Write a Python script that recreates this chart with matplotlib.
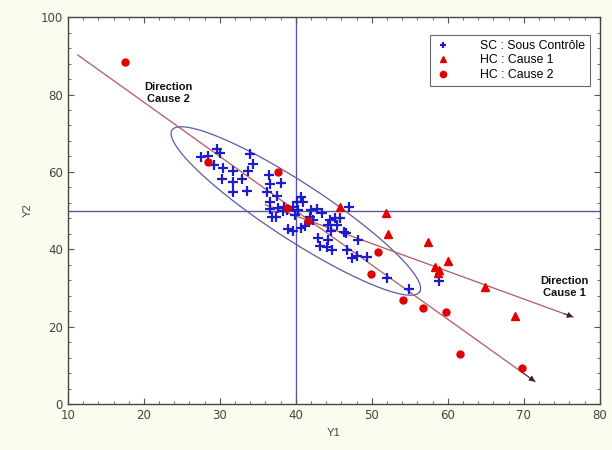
import numpy as np
import matplotlib
matplotlib.use('Agg')
import matplotlib.pyplot as plt
from matplotlib.ticker import MultipleLocator

# SC : Sous Contrôle
sc_y1 = [27.5, 28.4, 29.6, 30.0, 29.2, 30.4, 31.7, 33.9, 34.3, 33.7, 30.3, 31.7, 32.9,
         31.7, 33.6, 36.4, 36.6, 38.0, 36.2, 37.5, 36.6, 36.6, 36.8, 37.4, 38.4, 38.8,
         39.6, 40.1, 40.7, 40.9, 39.9, 40.3, 42.0, 42.8, 43.4, 41.8, 42.2, 44.5, 45.1,
         44.2, 45.4, 44.6, 46.4, 38.9, 39.6, 40.7, 41.2, 41.7, 42.9, 43.2, 44.2, 44.1,
         47.0, 45.8, 46.6, 48.2, 44.7, 46.7, 47.4, 48.0, 49.3, 52.0, 54.9, 58.8, 37.6, 38.3]
sc_y2 = [63.8, 64.1, 65.9, 64.9, 61.8, 61.0, 60.2, 64.6, 62.0, 60.2, 58.1, 57.4, 58.1,
         54.8, 55.0, 59.2, 56.8, 57.1, 54.8, 53.7, 52.2, 50.4, 48.3, 48.3, 50.9, 50.1,
         50.9, 52.2, 53.5, 52.2, 48.8, 50.1, 50.1, 50.4, 49.4, 48.3, 47.5, 47.5, 48.1,
         46.3, 46.3, 44.7, 44.4, 45.2, 44.7, 45.5, 46.0, 47.0, 42.9, 40.9, 42.4, 40.6,
         50.9, 48.1, 44.2, 42.4, 39.8, 39.8, 37.7, 38.2, 38.0, 32.6, 29.7, 31.8, 50.6, 49.9]

# HC : Cause 1
c1_y1 = [45.8, 51.8, 52.1, 57.4, 60.0, 58.3, 58.9, 58.7, 64.9, 68.9]
c1_y2 = [50.9, 49.4, 43.9, 41.8, 37.0, 35.4, 34.6, 33.9, 30.2, 22.7]

# HC : Cause 2
c2_y1 = [17.5, 28.4, 37.6, 38.8, 41.6, 50.8, 49.9, 54.1, 56.8, 59.7, 61.6, 69.7]
c2_y2 = [88.4, 62.5, 60.0, 50.6, 47.3, 39.3, 33.6, 26.9, 24.8, 23.8, 12.9, 9.3]

# reference lines and directions
y1_ref = 40
y2_ref = 50
dir1 = [(36.0, 51.5), (76.5, 22.5)]
dir2 = [(11.3, 90.2), (71.5, 5.8)]

# control ellipse: centre, half major axis, half minor axis (data units)
ell_c = (40.0, 49.9)
ell_a = (16.3, -20.9)
ell_b = (-2.0, -6.1)

fig = plt.figure(figsize=(6.12, 4.5), dpi=100, facecolor='#fcfbef')
ax = fig.add_axes([0.111, 0.102, 0.869, 0.860])
ax.set_facecolor('white')

ax.axvline(y1_ref, color='#5a5aa8', lw=1.0, zorder=1)
ax.axhline(y2_ref, color='#5a5aa8', lw=1.0, zorder=1)

t = np.linspace(0, 2 * np.pi, 300)
ex = ell_c[0] + np.cos(t) * ell_a[0] + np.sin(t) * ell_b[0]
ey = ell_c[1] + np.cos(t) * ell_a[1] + np.sin(t) * ell_b[1]
ax.plot(ex, ey, color='#5a5aa8', lw=0.9, zorder=2)

line_col = '#b05a5a'
for d in (dir1, dir2):
    ax.plot([d[0][0], d[1][0]], [d[0][1], d[1][1]], color=line_col, lw=0.9, zorder=2)
    f = 0.97
    ax.annotate('', xy=d[1], xytext=(d[0][0] + f * (d[1][0] - d[0][0]),
                                      d[0][1] + f * (d[1][1] - d[0][1])),
                arrowprops=dict(arrowstyle='-|>', color='#402020', lw=0.6,
                                mutation_scale=9, shrinkA=0, shrinkB=0), zorder=3)

ax.plot(sc_y1, sc_y2, '+', color='#1c1ccc', ms=7, mew=1.6, ls='none', zorder=4,
        label='SC : Sous Contrôle')
ax.plot(c1_y1, c1_y2, '^', color='#e00000', ms=6, ls='none', zorder=4,
        label='HC : Cause 1')
ax.plot(c2_y1, c2_y2, 'o', color='#e00000', ms=5, ls='none', zorder=4,
        label='HC : Cause 2')

ax.text(23.2, 80.4, 'Direction\nCause 2', ha='center', va='center',
        fontsize=8, fontweight='bold', family='Liberation Sans', color='#111111')
ax.text(75.4, 30.2, 'Direction\nCause 1', ha='center', va='center',
        fontsize=8, fontweight='bold', family='Liberation Sans', color='#111111')

ax.set_xlim(10, 80)
ax.set_ylim(0, 100)
ax.xaxis.set_major_locator(MultipleLocator(10))
ax.xaxis.set_minor_locator(MultipleLocator(2))
ax.yaxis.set_major_locator(MultipleLocator(20))
ax.yaxis.set_minor_locator(MultipleLocator(4))
ax.tick_params(which='both', direction='in', top=True, right=True,
               color='#555555', labelsize=8.5, labelcolor='#444444')
ax.tick_params(which='major', length=4)
ax.tick_params(which='minor', length=2)
for s in ax.spines.values():
    s.set_color('#444444')
    s.set_linewidth(1.0)
for lab in ax.get_xticklabels() + ax.get_yticklabels():
    lab.set_family('Liberation Sans Narrow')

ax.set_xlabel('Y1', fontsize=8, color='#444444', family='Liberation Sans', labelpad=4)
ax.set_ylabel('Y2', fontsize=8, color='#444444', family='Liberation Sans', labelpad=6)

leg = ax.legend(loc='upper right', bbox_to_anchor=(0.982, 0.955),
                frameon=True, fancybox=False, edgecolor='#444444',
                handlelength=1.2, handletextpad=2.4, borderpad=0.45, labelspacing=0.2,
                borderaxespad=0.0,
                prop={'family': 'Liberation Sans', 'size': 8.8})
leg.get_frame().set_linewidth(0.8)
for h in leg.legend_handles:
    h.set_markersize(4.5)

fig.savefig('out.png', dpi=100, facecolor=fig.get_facecolor())
